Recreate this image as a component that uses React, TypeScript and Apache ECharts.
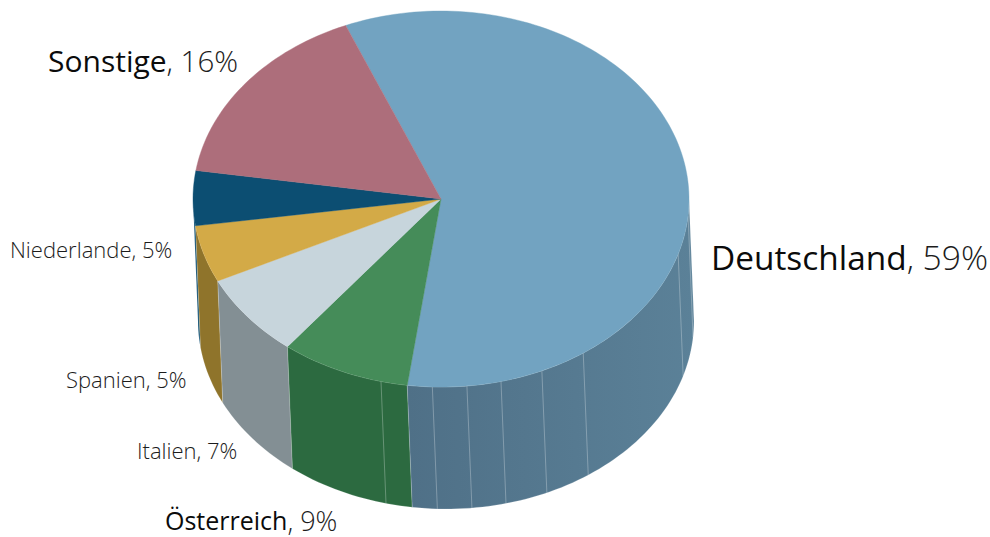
import React, { useEffect, useRef } from "react";
import * as echarts from "echarts";

const categories = ["Deutschland", "Österreich", "Italien", "Spanien", "Niederlande", "Sonstige"];
const labelPercents = [59, 9, 7, 5, 5, 16];
const shares = [58.45, 8.45, 7.2, 4.9, 4.7, 16.3];
const topColors = ["#72a3c1", "#458c59", "#c7d5dc", "#d3aa47", "#0c4e72", "#ad6e7b"];
const sideColors = ["#557a91", "#2c6a40", "#838f94", "#8f742b", "#0b4d70", "#7a4c56"];
const facetAngles = [95, 107, 145, 156, 166, 174, 182, 194];
const startAngle = -22.6;

const W = 990;
const H = 537;
const CX = 441;
const CY = 199;
const RX = 248;
const RY = 188;
const DX = 5;
const DY = 122;

const pt = (t: number, ox = 0, oy = 0): number[] => {
  const r = (t * Math.PI) / 180;
  return [CX + ox + RX * Math.sin(r), CY + oy - RY * Math.cos(r)];
};
const arcPts = (a: number, b: number, ox = 0, oy = 0): number[][] => {
  const out: number[][] = [];
  const n = Math.max(2, Math.ceil(Math.abs(b - a) / 1.5));
  for (let i = 0; i <= n; i++) out.push(pt(a + ((b - a) * i) / n, ox, oy));
  return out;
};

const total = shares.reduce((s, v) => s + v, 0);
const spans: number[][] = [];
let cursor = startAngle;
shares.forEach((v) => {
  const next = cursor + (v / total) * 360;
  spans.push([cursor, next]);
  cursor = next;
});

const rim = "rgba(255,255,255,0.35)";

const labelStyle = (strong: boolean, nameSize: number, valueSize: number) => ({
  n: { fontFamily: "Open Sans", fontSize: nameSize, fontWeight: strong ? 400 : 300, fill: strong ? "#0b0b0b" : "#1c1c1c", color: strong ? "#0b0b0b" : "#1c1c1c" },
  v: { fontFamily: "Open Sans", fontSize: valueSize, fontWeight: 300, fill: "#1c1c1c", color: "#1c1c1c" },
});

const labelLayout: { i: number; x: number; y: number; nameSize: number; valueSize: number; strong: boolean }[] = [
  { i: 0, x: 711, y: 257, nameSize: 33.4, valueSize: 33.6, strong: true },
  { i: 5, x: 48, y: 60, nameSize: 30, valueSize: 29.5, strong: true },
  { i: 4, x: 10, y: 249, nameSize: 22, valueSize: 22, strong: false },
  { i: 3, x: 66, y: 379, nameSize: 22, valueSize: 22, strong: false },
  { i: 2, x: 137, y: 450, nameSize: 22, valueSize: 22, strong: false },
  { i: 1, x: 165, y: 520, nameSize: 25, valueSize: 27, strong: true },
];

export default function App() {
  const ref = useRef<HTMLDivElement>(null);
  useEffect(() => {
    document.body.style.margin = "0";
    const chart = echarts.init(ref.current!, undefined, { renderer: "svg" });
    const rows = categories.map((name, i) => ({ name, value: [i, shares[i]] }));

    const renderSide = (_p: any, api: any) => {
      const i = api.value(0);
      const [a0, b0] = spans[i];
      const a = Math.max(a0, 90);
      const b = Math.min(b0, 270);
      if (b <= a) return { type: "group", children: [] };
      const top = arcPts(a, b);
      const bottom = arcPts(b, a, DX, DY);
      const fill =
        i === 0
          ? new echarts.graphic.LinearGradient(0, 0, 1, 0, [
              { offset: 0, color: "#4f7087" },
              { offset: 1, color: "#5b8198" },
            ])
          : sideColors[i];
      return {
        type: "polygon",
        shape: { points: top.concat(bottom) },
        style: { fill, stroke: rim, lineWidth: 0.5 },
      };
    };
    const renderTop = (_p: any, api: any) => {
      const i = api.value(0);
      const [a, b] = spans[i];
      return {
        type: "polygon",
        shape: { points: [[CX, CY]].concat(arcPts(a, b)) },
        style: { fill: topColors[i], stroke: topColors[i], lineWidth: 0.4 },
      };
    };
    const renderFacet = (_p: any, api: any) => {
      const t = api.value(0);
      const [x1, y1] = pt(t);
      const [x2, y2] = pt(t, DX, DY);
      return {
        type: "line",
        shape: { x1, y1, x2, y2 },
        style: { stroke: "rgba(255,255,255,0.28)", lineWidth: 1 },
      };
    };

    chart.setOption({
      animation: false,
      backgroundColor: "#ffffff",
      tooltip: { show: false },
      series: [
        {
          type: "custom",
          coordinateSystem: "none",
          silent: true,
          z: 1,
          renderItem: renderSide,
          data: rows.slice().reverse(),
        },
        {
          type: "custom",
          coordinateSystem: "none",
          silent: true,
          z: 2,
          renderItem: renderFacet,
          data: facetAngles.map((a) => [a]),
        },
        {
          type: "custom",
          coordinateSystem: "none",
          silent: true,
          z: 3,
          renderItem: renderTop,
          data: rows,
        },
      ],
      graphic: labelLayout.map((l) => ({
        type: "text",
        x: l.x,
        y: l.y,
        z: 10,
        style: {
          text: `{n|${categories[l.i]}}{v|, ${labelPercents[l.i]}%}`,
          rich: labelStyle(l.strong, l.nameSize, l.valueSize),
          verticalAlign: "middle",
          align: "left",
        },
      })),
    });
    return () => chart.dispose();
  }, []);
  return <div ref={ref} style={{ width: W, height: H, position: "absolute", left: 0, top: 0 }} />;
}
